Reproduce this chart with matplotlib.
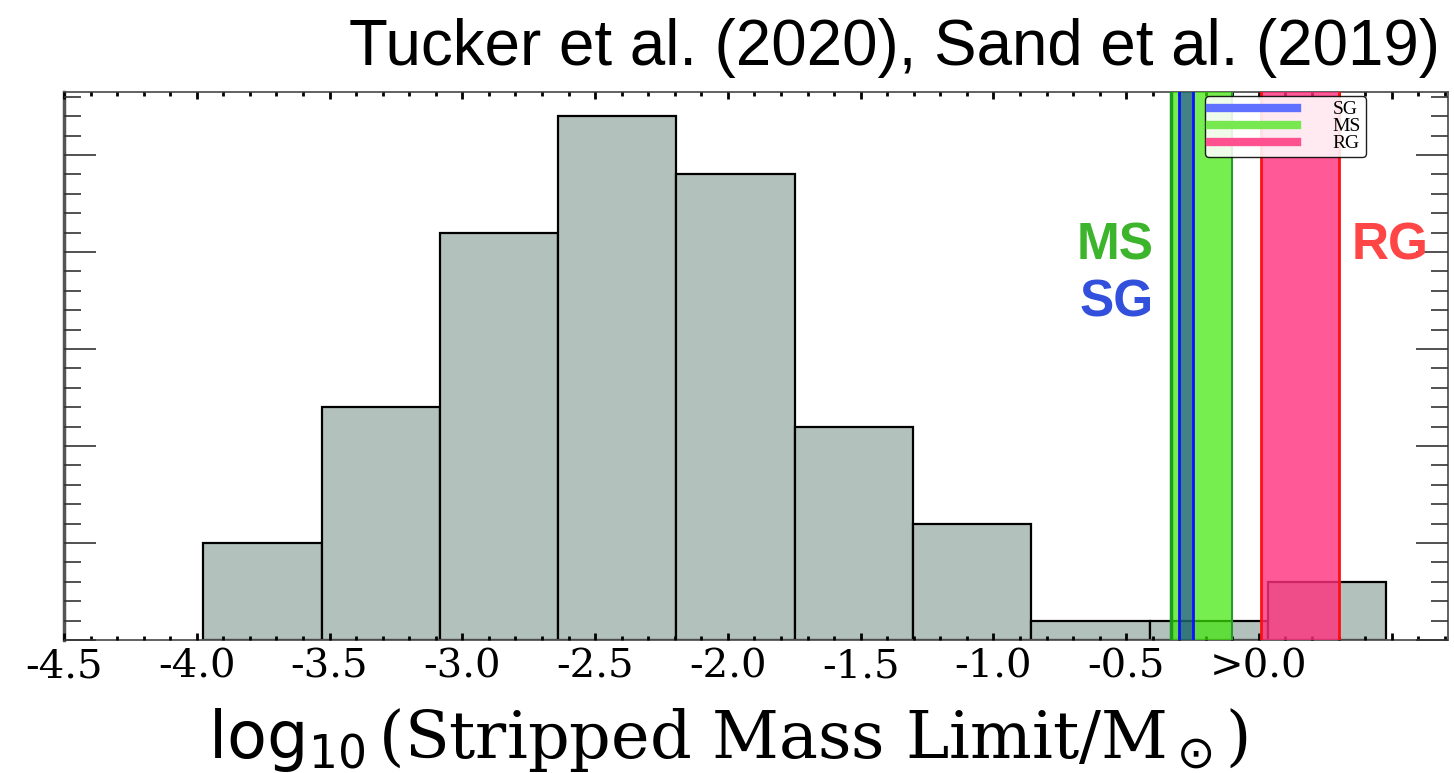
import numpy as np
import matplotlib
matplotlib.use("Agg")
import matplotlib.pyplot as plt
from matplotlib.lines import Line2D
from matplotlib.ticker import MultipleLocator

# ---- data ----
bin_edges = [-3.975, -3.530, -3.085, -2.639, -2.194, -1.749, -1.303, -0.858, -0.412, 0.033, 0.479]
counts = [5, 12, 21, 27, 24, 11, 6, 1, 1, 3]
xtick_vals = [-4.5, -4.0, -3.5, -3.0, -2.5, -2.0, -1.5, -1.0, -0.5, 0.0, 0.5]
xtick_labels = ["-4.5", "-4.0", "-3.5", "-3.0", "-2.5", "-2.0", "-1.5", "-1.0", "-0.5", ">0.0", ""]
ms_range = [-0.331, -0.102]
sg_range = [-0.301, -0.249]
rg_range = [0.008, 0.301]

fig = plt.figure(figsize=(14.54, 7.73), dpi=100)
ax = fig.add_axes([64/1454, 1-640/773, (1448-64)/1454, (640-92)/773])

edges = np.array(bin_edges)
ax.bar(edges[:-1], counts, width=np.diff(edges), align='edge',
       color='#b3c1bd', edgecolor='black', linewidth=1.6, zorder=2)

# bands
ax.axvspan(ms_range[0], ms_range[1], facecolor=(0.24, 0.91, 0.02), alpha=0.7, lw=0, zorder=3)
ax.axvline(ms_range[0], color='#1c9c1c', lw=2.5, zorder=4)
ax.axvline(ms_range[1], color='#2a9a2a', lw=1.5, zorder=4)
ax.axvspan(sg_range[0], sg_range[1], facecolor=(0.0, 0.0, 0.78), alpha=0.45, lw=0, zorder=3)
ax.axvline(sg_range[0], color='#1010ff', lw=2, zorder=4)
ax.axvline(sg_range[1], color='#1010ff', lw=2, zorder=4)
ax.axvspan(rg_range[0], rg_range[1], facecolor=(1.0, 0.19, 0.49), alpha=0.8, lw=0, zorder=3)
ax.axvline(rg_range[0], color='#ff1010', lw=2, zorder=4)
ax.axvline(rg_range[1], color='#ff1010', lw=2, zorder=4)

ax.set_xlim(-4.5, 0.712)
ax.set_ylim(0, 28.25)

ax.set_xticks(xtick_vals)
ax.set_xticklabels(xtick_labels, family='DejaVu Serif', fontsize=29)
ax.xaxis.set_minor_locator(MultipleLocator(0.1))
ax.yaxis.set_major_locator(MultipleLocator(5))
ax.yaxis.set_minor_locator(MultipleLocator(1))
ax.tick_params(axis='x', which='both', direction='in', top=True, bottom=True,
               width=2, color='black', pad=6)
ax.tick_params(axis='x', which='major', length=5)
ax.tick_params(axis='x', which='minor', length=3)
ax.tick_params(axis='y', which='both', direction='in', left=True, right=True,
               labelleft=False, width=1.2, color='#333333')
ax.tick_params(axis='y', which='major', length=23)
ax.tick_params(axis='y', which='minor', length=12)
for t in ax.xaxis.get_major_ticks() + ax.xaxis.get_minor_ticks() + ax.yaxis.get_major_ticks() + ax.yaxis.get_minor_ticks():
    t.tick1line.set_zorder(6); t.tick2line.set_zorder(6)
ax.set_axisbelow(False)

ax.spines['left'].set_linewidth(2.5)
ax.spines['left'].set_color('#555555')
for s in ['top', 'right', 'bottom']:
    ax.spines[s].set_linewidth(1.3)
    ax.spines[s].set_color('#555555')

# legend
handles = [Line2D([], [], color='#6070ff', lw=6),
           Line2D([], [], color='#78e850', lw=6),
           Line2D([], [], color='#ff5090', lw=6)]
leg = ax.legend(handles, ['SG', 'MS', 'RG'], loc='upper left',
                bbox_to_anchor=((1205-64)/1384, 0.992),
                prop={'family': 'Liberation Serif', 'size': 14},
                handlelength=4.5, handletextpad=1.8, labelspacing=0.0, borderpad=0.25,
                borderaxespad=0.0, handleheight=0.5,
                framealpha=0.88, edgecolor='black', fancybox=True)
leg.get_frame().set_linewidth(1.0)
leg.set_zorder(7)

# annotations
ax.text(-0.395, 19.6, 'MS', color='#3cb42c', fontsize=37, fontweight='bold',
        family='Liberation Sans', ha='right', va='baseline', zorder=8)
ax.text(-0.395, 16.7, 'SG', color='#3250dc', fontsize=37, fontweight='bold',
        family='Liberation Sans', ha='right', va='baseline', zorder=8)
ax.text(0.637, 19.6, 'RG', color='#ff4646', fontsize=37, fontweight='bold',
        family='Liberation Sans', ha='right', va='baseline', zorder=8)

fig.text(1440/1454, 1-65/773, 'Tucker et al. (2020), Sand et al. (2019)',
         fontsize=45.8, family='Liberation Sans', ha='right', va='baseline')

fig.text(728/1454, 1-758/773, r'$\log_{10}$(Stripped Mass Limit/M$_\odot$)',
         fontsize=47, family='DejaVu Serif', ha='center', va='baseline')

fig.savefig('out.png', dpi=100)
